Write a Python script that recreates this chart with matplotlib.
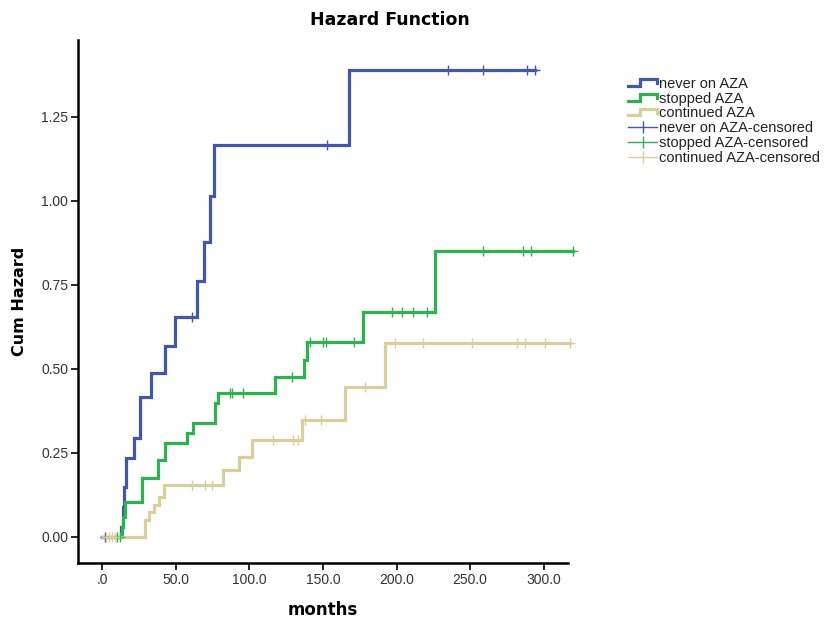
import numpy as np
import matplotlib.pyplot as plt
from matplotlib.lines import Line2D
from matplotlib.legend_handler import HandlerBase

# ---- data ----
blue_t = [0, 13, 14, 15, 16.5, 21.5, 26, 33.5, 43, 49.5, 64.5, 69, 73, 76, 168, 294]
blue_h = [0, 0.03, 0.09, 0.15, 0.234, 0.294, 0.418, 0.488, 0.568, 0.655, 0.762, 0.878, 1.015, 1.167, 1.39, 1.39]
blue_cens = [2, 61, 153, 235, 259, 288.5, 294]

green_t = [0, 13.5, 14.5, 15.5, 27, 38, 43, 57.5, 62, 77, 79, 117.5, 137, 139, 177, 226, 320]
green_h = [0, 0.03, 0.06, 0.105, 0.175, 0.229, 0.279, 0.309, 0.338, 0.398, 0.428, 0.476, 0.527, 0.58, 0.67, 0.85, 0.85]
green_cens = [10, 12, 87, 88.5, 95.5, 129, 141, 150, 152, 171, 197, 204, 211, 220.5, 258.5, 286, 291, 320]

tan_t = [0, 29, 32, 35, 39, 42, 82, 93, 102, 136, 165, 192, 318]
tan_h = [0, 0.05, 0.075, 0.095, 0.12, 0.155, 0.2, 0.238, 0.289, 0.348, 0.447, 0.577, 0.577]
tan_cens = [3, 5, 7, 9, 61, 70, 75, 116, 130, 133, 138, 148.5, 178.5, 199, 218, 251, 282, 287, 301, 318]

labels = ['never on AZA', 'stopped AZA', 'continued AZA']
colors = ['#4257a8', '#2fb150', '#d9cf9e']
y_ticks = [0, 0.25, 0.5, 0.75, 1.0, 1.25]
x_ticks = [0, 50, 100, 150, 200, 250, 300]
x_ticklabels = ['.0', '50.0', '100.0', '150.0', '200.0', '250.0', '300.0']


def step_value(ts, hs, t):
    i = np.searchsorted(ts, t, side='right') - 1
    return np.asarray(hs)[i]


class HandlerStep(HandlerBase):
    # the little "_|‾|" glyph SPSS uses for survival lines
    def create_artists(self, legend, orig, xd, yd, w, h, fontsize, trans):
        xs = [-xd, -xd + 0.4 * w, -xd + 0.4 * w, -xd + w, -xd + w]
        ys = [-yd + 0.2 * h, -yd + 0.2 * h, -yd + 0.85 * h, -yd + 0.85 * h, -yd + 0.45 * h]
        ln = Line2D(xs, ys, color=orig.get_color(), lw=orig.get_linewidth(),
                    solid_joinstyle='miter')
        ln.set_transform(trans)
        return [ln]


fig = plt.figure(figsize=(8.29, 6.21), dpi=100)
ax = fig.add_axes([0.0941, 0.0934, 0.591, 0.8422])

series = [(blue_t, blue_h, blue_cens), (green_t, green_h, green_cens), (tan_t, tan_h, tan_cens)]
line_handles, cens_handles = [], []
for (ts, hs, cs), lab, col in zip(series, labels, colors):
    ln, = ax.step(ts, hs, where='post', color=col, lw=2.3, label=lab,
                  clip_on=False, solid_joinstyle='miter', zorder=3)
    ch = [step_value(ts, hs, c) for c in cs]
    ax.plot(cs, ch, ls='none', marker='+', ms=7, mew=1.0, color=col,
            clip_on=False, zorder=4)
    line_handles.append(ln)
    cens_handles.append(Line2D([], [], color=col, lw=1.0, marker='|', ms=8,
                               mew=1.0, label=lab + '-censored'))

ax.set_xlim(-16.3, 316.4)
ax.set_ylim(-0.0774, 1.479)
ax.set_xticks(x_ticks)
ax.set_xticklabels(x_ticklabels)
ax.set_yticks(y_ticks)
ax.set_yticklabels(['%.2f' % v for v in y_ticks])

for s in ['top', 'right']:
    ax.spines[s].set_visible(False)
for s in ['left', 'bottom']:
    ax.spines[s].set_linewidth(1.8)
ax.tick_params(direction='out', length=5, width=1.2, colors='black',
               labelcolor='#333333', labelsize=10, pad=2)
for lbl in ax.get_xticklabels() + ax.get_yticklabels():
    lbl.set_fontfamily('Liberation Sans')

ax.set_xlabel('months', fontsize=12, fontweight='bold', labelpad=10)
ax.set_ylabel('Cum Hazard', fontsize=11.5, fontweight='bold', labelpad=10)
fig.text(390 / 829, 1 - 20 / 621, 'Hazard Function', ha='center', va='center',
         fontsize=12.5, fontweight='bold')

handles = line_handles + cens_handles
leg = fig.legend(handles, [h.get_label() for h in handles],
                 handler_map={h: HandlerStep() for h in line_handles},
                 loc='upper left', bbox_to_anchor=(628 / 829, 1 - 77 / 621),
                 frameon=False, prop={'family': 'Liberation Sans', 'size': 10.5},
                 handlelength=2.0, handletextpad=0.1, labelspacing=0.05,
                 borderaxespad=0, borderpad=0, numpoints=1)
for t in leg.get_texts():
    t.set_color('#222222')

fig.savefig('out.png', dpi=100)
